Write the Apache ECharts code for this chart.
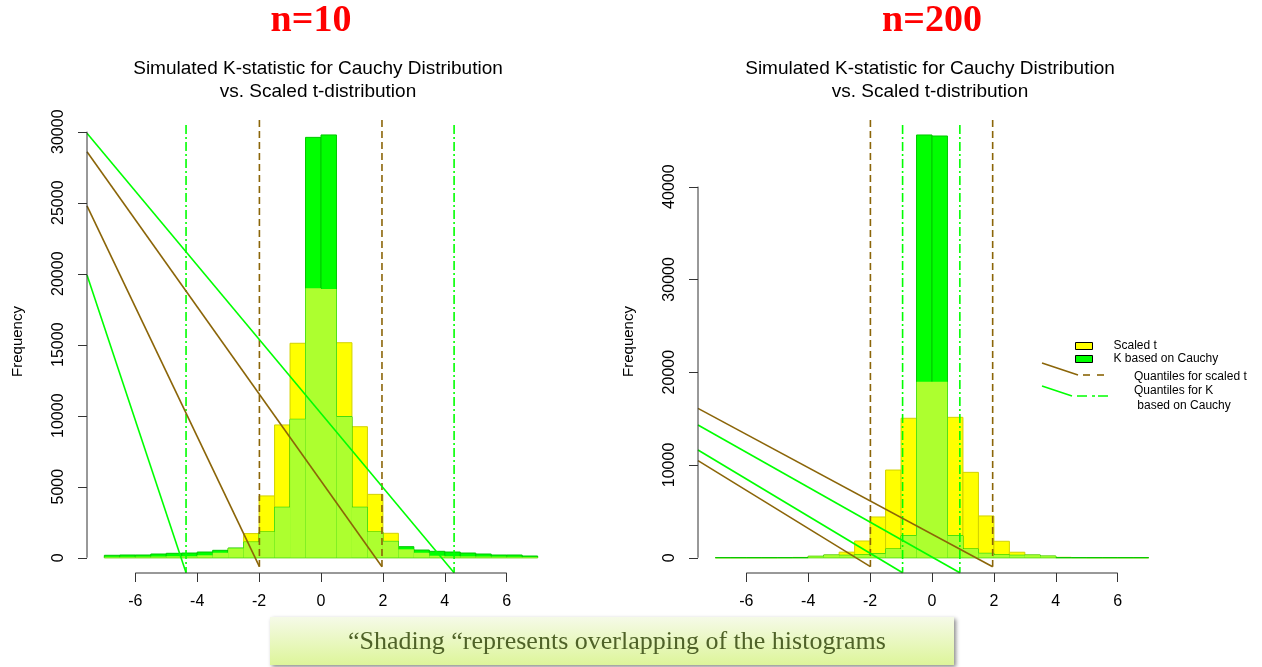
<!DOCTYPE html>
<html>
<head>
<meta charset="utf-8">
<script src="https://cdn.jsdelivr.net/npm/echarts@6/dist/echarts.min.js"></script>
<style>
  html, body { margin: 0; padding: 0; background: #ffffff; }
  #chart { width: 1262px; height: 667px; }
</style>
</head>
<body>
<div id="chart"></div>
<script>
// ---- histogram bins (left edge of each 0.5-wide bin) ----
const binStarts = [-7, -6.5, -6, -5.5, -5, -4.5, -4, -3.5, -3, -2.5, -2, -1.5, -1, -0.5,
                   0, 0.5, 1, 1.5, 2, 2.5, 3, 3.5, 4, 4.5, 5, 5.5, 6, 6.5];
const BIN_WIDTH = 0.5;

// ---- n = 10 : frequencies per bin ----
const tCounts10 = [60, 60, 70, 80, 100, 100, 170, 350, 660, 1700, 4350, 9350, 15100, 18970,
                   18920, 15140, 9225, 4460, 1718, 590, 350, 140, 100, 90, 80, 70, 60, 50];
const kCounts10 = [170, 190, 190, 260, 310, 330, 400, 520, 680, 1100, 1810, 3550, 9745, 29600,
                   29770, 9930, 3550, 1810, 1150, 775, 540, 450, 400, 330, 260, 190, 190, 120];

// ---- n = 200 : frequencies per bin ----
const tCounts200 = [0, 0, 0, 0, 10, 30, 150, 290, 600, 1800, 4390, 9450, 15030, 18980,
                    18980, 15130, 9200, 4500, 1770, 590, 290, 170, 40, 10, 0, 0, 0, 0];
const kCounts200 = [0, 0, 0, 0, 0, 0, 150, 280, 260, 300, 420, 940, 2370, 45570,
                    45460, 2370, 940, 470, 300, 260, 280, 170, 0, 0, 0, 0, 0, 0];

// ---- quantile markers: x positions, vertical extent [top, bottom], diagonal start heights ----
const quantT10 = [-1.99, 1.97];
const quantK10 = [-4.36, 4.30];
const spanT10 = [30820, -634];
const spanK10 = [30470, -1056];
const diagStartT10 = [24770, 28590];
const diagStartK10 = [19910, 29890];

const quantT200 = [-1.99, 1.96];
const quantK200 = [-0.95, 0.90];
const spanT200 = [47180, -970];
const spanK200 = [46640, -1617];
const diagStartT200 = [10460, 16100];
const diagStartK200 = [11610, 14300];

// ---- tick labels ----
const xTicks = [-6, -4, -2, 0, 2, 4, 6];
const yTicks10 = [0, 5000, 10000, 15000, 20000, 25000, 30000];
const yTicks200 = [0, 10000, 20000, 30000, 40000];

// ---- text ----
const panelTitles = ['n=10', 'n=200'];
const plotTitle = ['Simulated K-statistic for Cauchy Distribution', 'vs. Scaled t-distribution'];
const caption = '\u201CShading \u201Crepresents overlapping of the histograms';

// ---- layout / style ----
const X_MIN = -7.56, X_MAX = 7.56;
const Y_RANGE = [[-1077, 31527], [-1650, 48262]];
const GRID_LEFT = [87, 698];
const TICK_LEN = 9;
const AXIS_COLOR = '#333';
const YELLOW = '#FFFF00', YELLOW_EDGE = '#D2D200';
const GREEN = '#00FF00', GREEN_EDGE = '#00C800';
const OVERLAP = '#ADFF2F';
const BROWN = '#8B6508';
const LIME = '#00FF00';
const SANS = '"Liberation Sans", Arial, sans-serif';
const SERIF = '"Liberation Serif", "Times New Roman", serif';

function histSeries(name, g, counts, fill, stroke, z) {
  return {
    type: 'custom', name: name, xAxisIndex: g, yAxisIndex: g, z: z, silent: true,
    itemStyle: { color: fill },
    encode: { x: 0, y: 1 },
    data: binStarts.map((b, i) => [b, counts[i]]),
    renderItem: function (params, api) {
      const x0 = api.value(0), h = api.value(1);
      const p0 = api.coord([x0, 0]);
      const p1 = api.coord([x0 + BIN_WIDTH, h]);
      return {
        type: 'rect',
        shape: { x: p0[0], y: p1[1], width: p1[0] - p0[0], height: p0[1] - p1[1] },
        style: { fill: fill, stroke: stroke, lineWidth: stroke ? 1 : 0 }
      };
    }
  };
}

function segSeries(g, segs, color, width, dash, z) {
  return {
    type: 'custom', xAxisIndex: g, yAxisIndex: g, z: z, silent: true,
    encode: { x: [0, 2], y: [1, 3] },
    data: segs,
    renderItem: function (params, api) {
      const a = api.coord([api.value(0), api.value(1)]);
      const b = api.coord([api.value(2), api.value(3)]);
      return {
        type: 'line',
        shape: { x1: a[0], y1: a[1], x2: b[0], y2: b[1] },
        style: { stroke: color, lineWidth: width, lineDash: dash || null, fill: null }
      };
    }
  };
}

function panelSeries(g, tC, kC, qT, qK, spT, spK, dT, dK, yTicks) {
  const overlap = tC.map((v, i) => Math.min(v, kC[i]));
  const yMin = Y_RANGE[g][0];
  return [
    histSeries('Scaled t', g, tC, YELLOW, YELLOW_EDGE, 1),
    histSeries('K based on Cauchy', g, kC, GREEN, GREEN_EDGE, 2),
    histSeries('overlap', g, overlap, OVERLAP, null, 3),
    // quantile verticals
    segSeries(g, qT.map(q => [q, spT[0], q, spT[1]]), BROWN, 1.6, [7, 4], 4),
    segSeries(g, qK.map(q => [q, spK[0], q, spK[1]]), LIME, 1.6, [9, 3, 2, 3], 4),
    // diagonal guides from the left edge down to each quantile foot
    segSeries(g, qT.map((q, i) => [X_MIN, dT[i], q, spT[1]]), BROWN, 1.6, null, 5),
    segSeries(g, qK.map((q, i) => [X_MIN, dK[i], q, spK[1]]), LIME, 1.6, null, 5),
    // axis lines spanning only the tick range
    segSeries(g, [[xTicks[0], yMin, xTicks[xTicks.length - 1], yMin]], AXIS_COLOR, 1, null, 6),
    segSeries(g, [[X_MIN, yTicks[0], X_MIN, yTicks[yTicks.length - 1]]], AXIS_COLOR, 1, null, 6)
  ];
}

function xAxisCfg(g) {
  return {
    gridIndex: g, type: 'value', min: X_MIN, max: X_MAX, position: 'bottom',
    axisLine: { show: false, onZero: false }, splitLine: { show: false },
    axisTick: { show: true, length: TICK_LEN, customValues: xTicks, lineStyle: { color: AXIS_COLOR, width: 1 } },
    axisLabel: { customValues: xTicks, margin: 21, fontSize: 16, color: '#000', fontFamily: SANS }
  };
}

function yAxisCfg(g, ticks) {
  return {
    gridIndex: g, type: 'value', min: Y_RANGE[g][0], max: Y_RANGE[g][1], position: 'left',
    name: 'Frequency', nameLocation: 'middle', nameGap: 62,
    nameTextStyle: { fontSize: 15, color: '#000', fontFamily: SANS },
    axisLine: { show: false, onZero: false }, splitLine: { show: false },
    axisTick: { show: false },
    axisLabel: { customValues: ticks, rotate: 90, margin: 20, fontSize: 16, color: '#000', fontFamily: SANS,
                 formatter: v => String(v) }
  };
}

function text(x, y, str, font, fill, align) {
  return { type: 'text', x: x, y: y, silent: true,
    style: { text: str, font: font, fill: fill, align: align || 'center', verticalAlign: 'middle' } };
}

const chart = echarts.init(document.getElementById('chart'), null, { renderer: 'canvas' });

const graphics = [
  text(311, 21, panelTitles[0], 'bold 38px ' + SERIF, '#FF0000'),
  text(932, 21, panelTitles[1], 'bold 38px ' + SERIF, '#FF0000'),
  text(318, 69, plotTitle[0], '19px ' + SANS, '#000'),
  text(318, 92, plotTitle[1], '19px ' + SANS, '#000'),
  text(930, 69, plotTitle[0], '19px ' + SANS, '#000'),
  text(930, 92, plotTitle[1], '19px ' + SANS, '#000'),
  // legend entries for the quantile lines
  { type: 'polyline', silent: true, shape: { points: [[1042, 363], [1078, 375]] }, style: { stroke: BROWN, lineWidth: 1.6 } },
  { type: 'line', silent: true, shape: { x1: 1083, y1: 375, x2: 1106, y2: 375 }, style: { stroke: BROWN, lineWidth: 1.6, lineDash: [7, 7] } },
  { type: 'polyline', silent: true, shape: { points: [[1042, 386], [1072, 396]] }, style: { stroke: LIME, lineWidth: 1.6 } },
  { type: 'line', silent: true, shape: { x1: 1077, y1: 396, x2: 1110, y2: 396 }, style: { stroke: LIME, lineWidth: 1.6, lineDash: [10, 5, 3, 3] } },
  text(1134, 377, 'Quantiles for scaled t', '12px ' + SANS, '#000', 'left'),
  text(1134, 391, 'Quantiles for K', '12px ' + SANS, '#000', 'left'),
  text(1134, 406, ' based on Cauchy', '12px ' + SANS, '#000', 'left'),
  // caption box
  {
    type: 'rect', silent: true,
    shape: { x: 270, y: 617, width: 684, height: 48 },
    style: {
      fill: new echarts.graphic.LinearGradient(0, 0, 0, 1, [
        { offset: 0, color: '#F5FAE8' }, { offset: 1, color: '#DDF59A' }
      ]),
      shadowBlur: 4, shadowOffsetX: 2, shadowOffsetY: 2, shadowColor: 'rgba(0,0,0,0.45)'
    }
  },
  text(617, 642, caption, '26px ' + SERIF, '#4F6228')
];

chart.setOption({
  backgroundColor: '#ffffff',
  animation: false,
  grid: [
    { left: GRID_LEFT[0], top: 110, width: 468, height: 463 },
    { left: GRID_LEFT[1], top: 110, width: 468, height: 463 }
  ],
  xAxis: [xAxisCfg(0), xAxisCfg(1)],
  yAxis: [yAxisCfg(0, yTicks10), yAxisCfg(1, yTicks200)],
  legend: {
    data: ['Scaled t', 'K based on Cauchy'],
    orient: 'vertical', left: 1070, top: 335, selectedMode: false,
    icon: 'rect', itemWidth: 17, itemHeight: 7, itemGap: 1,
    itemStyle: { borderColor: '#000', borderWidth: 1 },
    textStyle: { fontSize: 12, lineHeight: 11, color: '#000', fontFamily: SANS, padding: [0, 0, 0, 16] }
  },
  series: [].concat(
    panelSeries(0, tCounts10, kCounts10, quantT10, quantK10, spanT10, spanK10, diagStartT10, diagStartK10, yTicks10),
    panelSeries(1, tCounts200, kCounts200, quantT200, quantK200, spanT200, spanK200, diagStartT200, diagStartK200, yTicks200)
  ),
  graphic: graphics
});

// outward tick marks on each left axis, positioned through the y scale
[[0, yTicks10], [1, yTicks200]].forEach(([g, ticks]) => {
  ticks.forEach(v => {
    const p = chart.convertToPixel({ gridIndex: g }, [X_MIN, v]);
    const y = Math.round(p[1]) + 0.5;
    graphics.push({
      type: 'line', silent: true, z: 10,
      shape: { x1: p[0] - TICK_LEN, y1: y, x2: p[0], y2: y },
      style: { stroke: AXIS_COLOR, lineWidth: 1 }
    });
  });
});
chart.setOption({ graphic: graphics });
</script>
</body>
</html>
